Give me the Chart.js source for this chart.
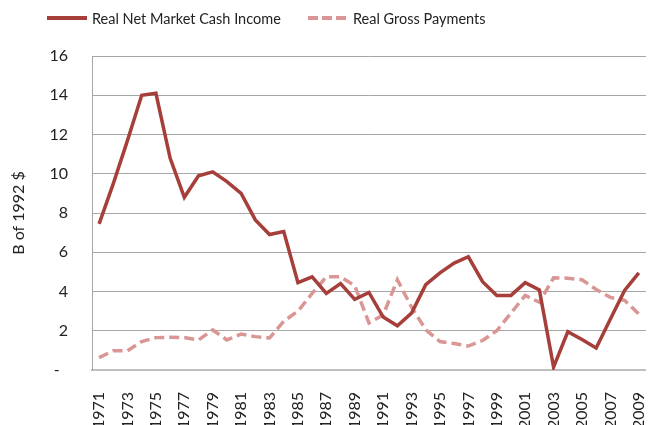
<!DOCTYPE html>
<html>
<head>
<meta charset="utf-8">
<script src="https://cdn.jsdelivr.net/npm/chart.js@4.4.1/dist/chart.umd.min.js"></script>
<style>
  html, body { margin: 0; padding: 0; background: #fff; overflow: hidden; }
  #wrap { position: relative; width: 672px; height: 425px; }
  #legend { position: absolute; left: 0; top: 8px; font-family: Lato, "Noto Sans", sans-serif; font-size: 14.5px; color: #222; }
  .item { position: absolute; top: 0; white-space: nowrap; display: flex; align-items: center; }
  .item svg { margin-right: 5px; }
</style>
</head>
<body>
<div id="wrap">
  <canvas id="chart" width="672" height="425"></canvas>
  <div id="legend">
    <div class="item" style="left:47px">
      <svg width="40" height="20"><line x1="0" y1="10" x2="40" y2="10" stroke="#A63E3A" stroke-width="4"/></svg>
      <span>Real Net Market Cash Income</span>
    </div>
    <div class="item" style="left:308px">
      <svg width="40" height="20"><line x1="0" y1="10" x2="40" y2="10" stroke="#D99694" stroke-width="4" stroke-dasharray="10,4"/></svg>
      <span>Real Gross Payments</span>
    </div>
  </div>
</div>
<script>
/*************************************************
 * Data
 *************************************************/
const years = [];
for (let y = 1971; y <= 2009; y++) years.push(String(y));

const netCashIncome = [
  7.45, 9.5, 11.7, 14.0, 14.1, 10.8, 8.8, 9.9, 10.1, 9.6,
  9.0, 7.65, 6.9, 7.05, 4.45, 4.75, 3.9, 4.4, 3.6, 3.95,
  2.7, 2.25, 2.9, 4.35, 4.95, 5.45, 5.77, 4.5, 3.8, 3.8,
  4.45, 4.08, 0.15, 1.95, 1.55, 1.12, 2.6, 4.05, 4.95
];

const grossPayments = [
  0.63, 0.98, 0.98, 1.45, 1.65, 1.67, 1.65, 1.53, 2.04, 1.53,
  1.83, 1.7, 1.63, 2.48, 3.0, 3.9, 4.75, 4.75, 4.3, 2.4,
  2.8, 4.6, 3.2, 2.05, 1.45, 1.35, 1.22, 1.5, 2.0, 2.9,
  3.8, 3.45, 4.7, 4.68, 4.6, 4.1, 3.7, 3.55, 2.85
];

const yTicks = [0, 2, 4, 6, 8, 10, 12, 14, 16];

const FONT = "Lato, 'Noto Sans', sans-serif";

/*************************************************
 * Chart
 *************************************************/
new Chart(document.getElementById("chart"), {
  type: "line",
  data: {
    labels: years,
    datasets: [
      {
        label: "Real Net Market Cash Income",
        data: netCashIncome,
        borderColor: "#A63E3A",
        borderWidth: 3.5,
        pointRadius: 0,
        tension: 0
      },
      {
        label: "Real Gross Payments",
        data: grossPayments,
        borderColor: "#D99694",
        borderWidth: 3.5,
        borderDash: [10, 5],
        pointRadius: 0,
        tension: 0
      }
    ]
  },
  options: {
    responsive: false,
    animation: false,
    layout: { padding: { top: 56, right: 0, left: 0, bottom: 0 } },
    plugins: { legend: { display: false }, tooltip: { enabled: false } },
    scales: {
      x: {
        offset: true,
        grid: { display: false },
        border: { display: true, color: "#BFBFBF", width: 2 },
        ticks: {
          autoSkip: false,
          minRotation: 90,
          maxRotation: 90,
          padding: 14,
          color: "#222",
          font: { family: FONT, size: 16 },
          callback: (v, i) => (i % 2 === 0 ? years[i] : "")
        },
        afterFit: s => { s.height = 55; }
      },
      y: {
        min: 0,
        max: 16,
        afterBuildTicks: s => { s.ticks = yTicks.map(v => ({ value: v })); },
        grid: { color: "#A6A6A6", lineWidth: 1, drawTicks: false },
        border: { display: true, color: "#A6A6A6", width: 1 },
        ticks: {
          padding: 24,
          color: "#222",
          font: { family: FONT, size: 16 },
          callback: v => (v === 0 ? "-  " : v)
        },
        title: {
          display: true,
          text: "B of 1992 $",
          color: "#222",
          font: { family: FONT, size: 16 },
          padding: { top: 9, bottom: 0 }
        },
        afterFit: s => { s.width = 92; }
      }
    }
  }
});
</script>
</body>
</html>
